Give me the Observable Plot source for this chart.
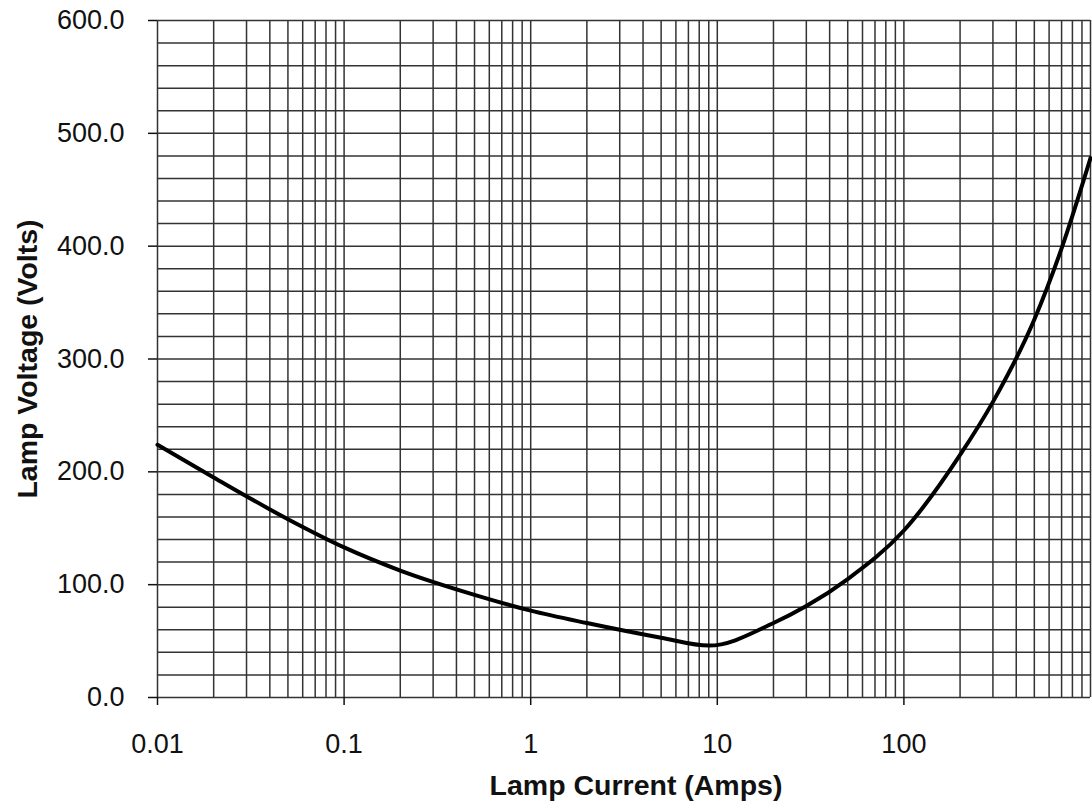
<!DOCTYPE html>
<html><head><meta charset="utf-8">
<script src="https://cdn.jsdelivr.net/npm/d3@7"></script>
<script src="https://cdn.jsdelivr.net/npm/@observablehq/plot@0.6"></script>
<style>body{margin:0;background:#fff}</style>
</head><body><div id="chart"></div>
<script>
const currents = [0.01, 0.02, 0.05, 0.1, 0.2, 0.5, 1, 2, 5, 9, 20, 30, 50, 100, 200, 300, 500, 700, 1000];
const voltages = [224, 195, 158, 133, 112.5, 91, 77, 66, 53, 46, 66, 81, 105, 148, 215, 262, 335, 398, 478];
const xTicks = [0.01, 0.1, 1, 10, 100];
const yTicks = [0, 100, 200, 300, 400, 500, 600];
const xTitle = "Lamp Current (Amps)";
const yTitle = "Lamp Voltage (Volts)";

const data = currents.map((c, i) => ({current: c, voltage: voltages[i]}));
const xGrid = [];
for (let e = -2; e <= 2; e++) for (let m = 1; m <= 9; m++) xGrid.push(+(m * Math.pow(10, e)).toPrecision(3));
xGrid.push(1000);
const yGrid = d3.range(0, 601, 20);

const chart = Plot.plot({
  width: 1092, height: 802,
  marginLeft: 157, marginRight: 2, marginTop: 20, marginBottom: 105,
  style: {fontFamily: "'Liberation Sans', Arial, sans-serif", fontSize: "27px", color: "#111", background: "#fff"},
  x: {type: "log", domain: [0.01, 1000]},
  y: {domain: [0, 600]},
  marks: [
    Plot.ruleX(xGrid, {stroke: "#333", strokeWidth: 1.5}),
    Plot.ruleY(yGrid, {stroke: "#333", strokeWidth: 1.5}),
    Plot.axisX(xTicks, {tickSize: 8, tickPadding: 28, tickFormat: d => String(d), label: null, fontSize: 27, strokeWidth: 1.5}),
    Plot.axisY(yTicks, {tickSize: 9, tickPadding: 24, tickFormat: d3.format(".1f"), label: null, fontSize: 27, strokeWidth: 1.5}),
    Plot.line(data, {x: "current", y: "voltage", stroke: "#000", strokeWidth: 4, curve: "monotone-x"}),
    Plot.text([xTitle], {text: d => d, frameAnchor: "bottom", textAnchor: "middle", lineAnchor: "middle", dx: 12, dy: 88, fontWeight: "bold", fontSize: 28.5}),
    Plot.text([yTitle], {text: d => d, frameAnchor: "left", textAnchor: "middle", lineAnchor: "middle", dx: -130, rotate: -90, fontWeight: "bold", fontSize: 28.5})
  ]
});
document.getElementById("chart").appendChild(chart);
</script>
</body></html>
